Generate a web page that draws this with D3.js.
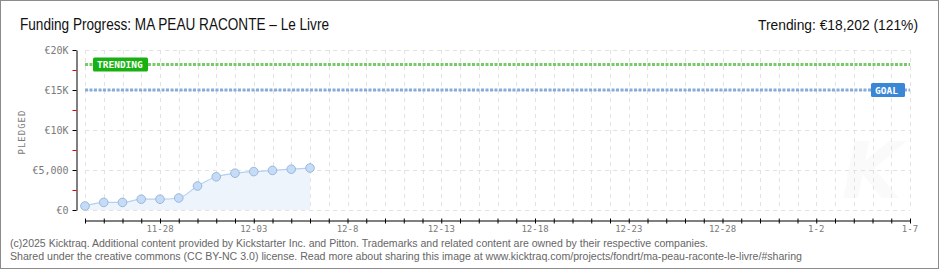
<!DOCTYPE html>
<html>
<head>
<meta charset="utf-8">
<script src="https://cdn.jsdelivr.net/npm/d3@7"></script>
<style>
  html, body { margin: 0; padding: 0; background: #fff; }
  svg { display: block; }
</style>
</head>
<body>
<svg id="chart"></svg>
<script>
// funding data (one point per day)
const dates = ['2025-11-24', '2025-11-25', '2025-11-26', '2025-11-27', '2025-11-28', '2025-11-29',
  '2025-11-30', '2025-12-01', '2025-12-02', '2025-12-03', '2025-12-04', '2025-12-05', '2025-12-06'];
const pledged = [500, 950, 950, 1350, 1350, 1500, 3000, 4150, 4600, 4800, 4950, 5100, 5250];

const goal = 15000;
const trending = 18202;

const yTicks = [0, 5000, 10000, 15000, 20000];
const yTickLabels = ['€0', '€5,000', '€10K', '€15K', '€20K'];
const yMinorTicks = [2500, 7500, 12500, 17500];

const xStart = '2025-11-24';
const xEnd = '2026-01-07';
const xTickDates = ['2025-11-28', '2025-12-03', '2025-12-08', '2025-12-13', '2025-12-18',
  '2025-12-23', '2025-12-28', '2026-01-02', '2026-01-07'];
const xTickLabels = ['11-28', '12-03', '12-8', '12-13', '12-18', '12-23', '12-28', '1-2', '1-7'];

const title = 'Funding Progress: MA PEAU RACONTE – Le Livre';
const trendText = 'Trending: €18,202 (121%)';
const footer1 = '(c)2025 Kicktraq. Additional content provided by Kickstarter Inc. and Pitton. Trademarks and related content are owned by their respective companies.';
const footer2 = 'Shared under the creative commons (CC BY-NC 3.0) license. Read more about sharing this image at www.kicktraq.com/projects/fondrt/ma-peau-raconte-le-livre/#sharing';

const width = 940, height = 270;
const plot = { left: 85, right: 910, top: 50, bottom: 210 };
const parse = d3.timeParse('%Y-%m-%d');
const pixelFont = '"DejaVu Sans Mono", monospace';
const narrowFont = '"Liberation Sans Narrow", "Liberation Sans", sans-serif';

const svg = d3.select('#chart').attr('width', width).attr('height', height);

// frame
svg.append('rect')
  .attr('x', 0.5).attr('y', 0.5)
  .attr('width', 938).attr('height', 268)
  .attr('fill', '#fff').attr('stroke', '#8c8c8c');

const x = d3.scaleTime()
  .domain([parse(xStart), parse(xEnd)])
  .range([plot.left, plot.right]);

const y = d3.scaleLinear()
  .domain([0, 20000])
  .range([plot.bottom, plot.top]);

// watermark
svg.append('text')
  .attr('x', 872).attr('y', 198)
  .attr('text-anchor', 'middle')
  .attr('font-family', 'DejaVu Sans, sans-serif')
  .attr('font-style', 'italic')
  .attr('font-weight', 'bold')
  .attr('font-size', 78)
  .attr('fill', '#fafafa')
  .text('K');

// grid
const days = d3.timeDay.range(parse(xStart), d3.timeDay.offset(parse(xEnd), 1));
svg.append('g').selectAll('line')
  .data(days)
  .join('line')
  .attr('x1', d => Math.round(x(d)) + 0.5)
  .attr('x2', d => Math.round(x(d)) + 0.5)
  .attr('y1', plot.top).attr('y2', plot.bottom)
  .attr('stroke', '#e2e2e2')
  .attr('stroke-dasharray', '4,4');

svg.append('g').selectAll('line')
  .data(yTicks)
  .join('line')
  .attr('x1', plot.left).attr('x2', plot.right)
  .attr('y1', d => Math.round(y(d)) + 0.5)
  .attr('y2', d => Math.round(y(d)) + 0.5)
  .attr('stroke', '#e2e2e2')
  .attr('stroke-dasharray', '4,4');

// area + line
const pts = dates.map((d, i) => ({ date: parse(d), value: pledged[i] }));

svg.append('path')
  .datum(pts)
  .attr('fill', '#edf4fc')
  .attr('d', d3.area().x(d => x(d.date)).y0(y(0)).y1(d => y(d.value)).curve(d3.curveMonotoneX));

svg.append('path')
  .datum(pts)
  .attr('fill', 'none')
  .attr('stroke', '#b3d0f2')
  .attr('stroke-width', 1.2)
  .attr('d', d3.line().x(d => x(d.date)).y(d => y(d.value)).curve(d3.curveMonotoneX));

// goal & trending lines
const refLine = (val, color) => svg.append('line')
  .attr('x1', plot.left).attr('x2', plot.right)
  .attr('y1', y(val)).attr('y2', y(val))
  .attr('stroke', color)
  .attr('stroke-width', 3)
  .attr('stroke-dasharray', '3,1.5');

refLine(goal, '#86acd9');
refLine(trending, '#78c96a');

svg.selectAll('circle.pt')
  .data(pts)
  .join('circle')
  .attr('class', 'pt')
  .attr('cx', d => x(d.date))
  .attr('cy', d => y(d.value))
  .attr('r', 4.3)
  .attr('fill', '#c6dcf6')
  .attr('stroke', '#99b7de')
  .attr('stroke-width', 1);

// labels on ref lines
const tag = (tx, val, w, color, label) => {
  const g = svg.append('g');
  g.append('rect')
    .attr('x', tx).attr('y', y(val) - 7)
    .attr('width', w).attr('height', 14)
    .attr('rx', 1.5)
    .attr('fill', color);
  g.append('text')
    .attr('x', tx + 4).attr('y', y(val) + 3.5)
    .attr('font-family', pixelFont)
    .attr('font-size', 9.5)
    .attr('font-weight', 'bold')
    .attr('fill', '#fff')
    .text(label);
};
tag(93, trending, 55, '#19b012', 'TRENDING');
tag(871, goal, 34, '#3a87d6', 'GOAL');

// y axis
const yAxis = svg.append('g')
  .attr('transform', 'translate(76.5,0)')
  .call(d3.axisLeft(y)
    .tickValues(yTicks)
    .tickFormat((d, i) => yTickLabels[i])
    .tickSizeInner(4)
    .tickSizeOuter(0)
    .tickPadding(4));
yAxis.select('.domain').attr('stroke', '#000');
yAxis.selectAll('.tick line').attr('stroke', '#000');
yAxis.selectAll('.tick text')
  .attr('font-family', pixelFont)
  .attr('font-size', 10)
  .attr('fill', '#7a7a7a');

svg.append('g').selectAll('line')
  .data(yMinorTicks)
  .join('line')
  .attr('x1', 72.5).attr('x2', 76.5)
  .attr('y1', d => Math.round(y(d)) + 0.5)
  .attr('y2', d => Math.round(y(d)) + 0.5)
  .attr('stroke', '#e00000');

svg.append('text')
  .attr('transform', 'translate(25,132) rotate(-90)')
  .attr('text-anchor', 'middle')
  .attr('font-family', pixelFont)
  .attr('font-size', 9)
  .attr('letter-spacing', 1)
  .attr('fill', '#777')
  .text('PLEDGED');

// x axis
const xAxis = svg.append('g')
  .attr('transform', 'translate(0,220.5)')
  .call(d3.axisBottom(x)
    .tickValues(days)
    .tickFormat(() => '')
    .tickSizeInner(3)
    .tickSizeOuter(0));
xAxis.select('.domain').attr('stroke', '#000');
xAxis.selectAll('.tick line').attr('y1', -2).attr('stroke', '#000');

svg.append('g').selectAll('text')
  .data(xTickDates)
  .join('text')
  .attr('x', d => x(parse(d)))
  .attr('y', 232)
  .attr('text-anchor', 'middle')
  .attr('font-family', pixelFont)
  .attr('font-size', 9)
  .attr('fill', '#7a7a7a')
  .text((d, i) => xTickLabels[i]);

// header
svg.append('text')
  .attr('x', 20).attr('y', 30)
  .attr('font-family', narrowFont)
  .attr('font-size', 16)
  .attr('fill', '#111')
  .attr('textLength', 309)
  .attr('lengthAdjust', 'spacingAndGlyphs')
  .text(title);

svg.append('text')
  .attr('x', 918).attr('y', 30)
  .attr('text-anchor', 'end')
  .attr('font-family', narrowFont)
  .attr('font-size', 15)
  .attr('fill', '#111')
  .attr('textLength', 160)
  .attr('lengthAdjust', 'spacingAndGlyphs')
  .text(trendText);

// footer
svg.append('text')
  .attr('x', 10).attr('y', 247)
  .attr('font-family', narrowFont)
  .attr('font-size', 10)
  .attr('fill', '#666')
  .attr('textLength', 698)
  .attr('lengthAdjust', 'spacingAndGlyphs')
  .text(footer1);

svg.append('text')
  .attr('x', 10).attr('y', 260)
  .attr('font-family', narrowFont)
  .attr('font-size', 10)
  .attr('fill', '#666')
  .attr('textLength', 792)
  .attr('lengthAdjust', 'spacingAndGlyphs')
  .text(footer2);
</script>
</body>
</html>
